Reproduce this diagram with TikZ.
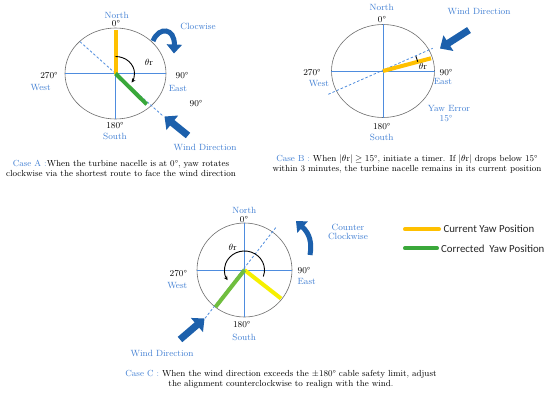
\documentclass[tikz,border=0pt]{standalone}
\usepackage{fontspec}
\newfontfamily\legendfont{Carlito}
\usetikzlibrary{arrows.meta,shapes.geometric}
\definecolor{lblue}{RGB}{66,128,212}
\definecolor{axisblue}{RGB}{78,140,222}
\definecolor{dblue}{RGB}{28,96,172}
\definecolor{ayellow}{RGB}{255,192,0}
\definecolor{cyellow}{RGB}{246,240,0}
\definecolor{agreen}{RGB}{58,168,58}
\definecolor{cgreen}{RGB}{112,190,62}
\definecolor{ringgray}{RGB}{110,110,110}
\tikzset{
  ring/.style={ellipse, draw=ringgray, line width=0.6pt, inner sep=0pt},
  axis/.style={draw=axisblue, line width=1pt},
  windline/.style={draw=axisblue, dashed, line width=0.8pt, dash pattern=on 2.5pt off 2pt},
  yawbar/.style={line width=4pt},
  blab/.style={text=lblue, font=\fontsize{9}{10}\selectfont, inner sep=0pt},
  klab/.style={text=black, font=\fontsize{9}{10}\selectfont, inner sep=0pt},
  caption/.style={font=\fontsize{8.8}{9.7}\selectfont, align=center, inner sep=0pt},
  blockarrow/.style={draw=dblue, line width=7pt, -{Triangle[length=10pt,width=18pt]}},
  turnarrow/.style={draw=dblue, line width=5pt, -{Triangle[length=9pt,width=15pt]}},
  anglearc/.style={draw=black, line width=0.9pt, -{Stealth[length=4pt,width=4pt]}},
  legline/.style={line width=4pt, line cap=round},
  legtext/.style={font=\legendfont\fontsize{10.8}{12}\selectfont, anchor=west, inner sep=0pt, text=black!85}
}
\begin{document}
\begin{tikzpicture}[x=1pt,y=-1pt]
\useasboundingbox (0,0) rectangle (550,394);
\fill[white] (0,0) rectangle (550,394);

% ================= Case A =================
\node[ring, minimum width=101pt, minimum height=91pt] (cA) at (115.5,73.5) {};
\draw[axis] (cA.west) -- (cA.east);
\draw[axis] (cA.center) -- (cA.south);
\coordinate (dA1) at (80,41.7);
\coordinate (dA2) at (163,116);
\draw[windline] (dA1) -- (dA2);
\coordinate (yA) at (115.5,30);
\coordinate (gA) at (146.7,104.3);
\draw[yawbar, ayellow] (cA.center) -- (yA);
\draw[yawbar, agreen] (cA.center) -- (gA);
\draw[anglearc] (cA.center) ++(0,-17) coordinate (arcAs) arc[start angle=-90, end angle=32, x radius=19, y radius=17];
\node[blab] (northA) at (116.7,15) {North};
\node[klab] (zeroA) at (116,24) {0°};
\node[blab] (cwA) at (198,26.7) {Clocwise};
\node[klab] (thA) at (149,62) {$\theta$r};
\node[klab] (w270A) at (49,76) {270°};
\node[blab] (westA) at (40.7,87.3) {West};
\node[klab] (e90A) at (182,76) {90°};
\node[blab] (eastA) at (178,88) {East};
\node[klab] (x90A) at (196,104) {90°};
\node[klab] (s180A) at (115,126) {180°};
\node[blab] (southA) at (115,136.5) {South};
\node[blab] (windA) at (205,147.7) {Wind Direction};
\coordinate (baA1) at (188,135.5);
\coordinate (baA2) at (164.5,116.5);
\draw[blockarrow] (baA1) -- (baA2);
\coordinate (taA1) at (153,41);
\coordinate (taA2) at (174,53.5);
\draw[turnarrow] (taA1) .. controls (159,26) and (175,28) .. (taA2);
\node[caption] (capA) at (121,168.7) {{\color{lblue}Case A :}When the turbine nacelle is at 0°, yaw rotates\\clockwise via the shortest route to face the wind direction};

% ================= Case B =================
\node[ring, minimum width=103pt, minimum height=93pt] (cB) at (383,71) {};
\draw[axis] (cB.west) -- (cB.east);
\draw[axis] (cB.north) -- (cB.south);
\coordinate (dB1) at (328.3,94.3);
\coordinate (dB2) at (432.7,48.3);
\draw[windline] (dB1) -- (dB2);
\coordinate (yB) at (431,58.3);
\draw[yawbar, ayellow] (cB.center) -- (yB);
\draw[draw=black, line width=0.9pt] (cB.center) ++(-15:36) arc[start angle=-15, end angle=-24, radius=36];
\node[blab] (northB) at (381.7,7.3) {North};
\node[klab] (zeroB) at (382,20) {0°};
\node[blab] (windB) at (479,11.7) {Wind Direction};
\node[klab] (w270B) at (312,72.3) {270°};
\node[blab] (westB) at (319,83.3) {West};
\node[klab] (e90B) at (446,72.3) {90°};
\node[blab] (eastB) at (443,81) {East};
\node[klab] (thB) at (423,66.7) {$\theta$r};
\node[blab] (yawB) at (449,108.7) {Yaw Error};
\node[blab] (fifB) at (446,118.3) {15°};
\node[klab] (s180B) at (381.7,126.7) {180°};
\node[blab] (southB) at (381.7,137) {South};
\coordinate (baB1) at (469,30);
\coordinate (baB2) at (440,48.5);
\draw[blockarrow] (baB1) -- (baB2);
\node[caption] (capB) at (407,163.7) {{\color{lblue}Case B :} When $|\theta$r$|\geq 15$°, initiate a timer. If $|\theta$r$|$ drops below 15°\\within 3 minutes, the turbine nacelle remains in its current position};

% ================= Case C =================
\node[ring, minimum width=95pt, minimum height=94pt] (cC) at (244.5,270) {};
\draw[axis] (cC.west) -- (cC.east);
\draw[axis] (cC.north) -- (cC.south);
\coordinate (dC1) at (205,318.3);
\coordinate (dC2) at (276,227.3);
\draw[windline] (dC1) -- (dC2);
\coordinate (yC) at (281,298.5);
\coordinate (gC) at (215.5,307);
\draw[yawbar, cyellow] (cC.center) -- (yC);
\draw[yawbar, cgreen] (cC.center) -- (gC);
\draw[anglearc] (cC.center) ++(20:20 and 19) coordinate (arcCs) arc[start angle=20, end angle=-212, x radius=20, y radius=19];
\node[klab] (thC) at (232.7,247.3) {$\theta$r};
\node[blab] (northC) at (244.3,210.7) {North};
\node[klab] (zeroC) at (244,219.5) {0°};
\node[klab] (w270C) at (178.3,273.3) {270°};
\node[blab] (westC) at (177.3,285.7) {West};
\node[klab] (e90C) at (304,271) {90°};
\node[blab] (eastC) at (306.7,281) {East};
\node[klab] (s180C) at (241.7,325) {180°};
\node[blab] (southC) at (244.3,337.7) {South};
\node[blab] (ccwC) at (348,232.5) {\begin{tabular}{@{}c@{}}Counter\\[-1pt]Clockwise\end{tabular}};
\node[blab] (windC) at (162,353.3) {Wind Direction};
\coordinate (baC1) at (180,339.5);
\coordinate (baC2) at (204.5,318.5);
\draw[blockarrow] (baC1) -- (baC2);
\coordinate (taC1) at (310,255);
\coordinate (taC2) at (296,221);
\draw[turnarrow] (taC1) .. controls (312,243) and (310,234) .. (taC2);
\node[caption] (capC) at (281,379.3) {{\color{lblue}Case C :} When the wind direction exceeds the ±180° cable safety limit, adjust\\the alignment counterclockwise to realign with the wind.};

% ================= Legend =================
\coordinate (lY1) at (405,229.3);
\coordinate (lY2) at (439,229.3);
\draw[legline, ayellow] (lY1) -- (lY2);
\node[legtext] (lYt) at (443.3,229.3) {Current Yaw Position};
\coordinate (lG1) at (405,248.3);
\coordinate (lG2) at (437,248.3);
\draw[legline, agreen] (lG1) -- (lG2);
\node[legtext] (lGt) at (441,248.3) {Corrected\ \ Yaw Position};
\end{tikzpicture}
\end{document}
